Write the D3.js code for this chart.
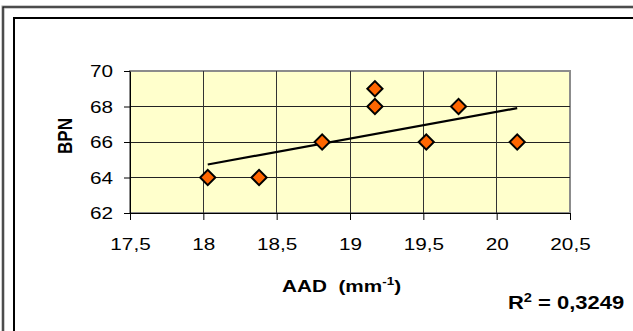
<html>
<head>
<script src="https://d3js.org/d3.v7.min.js"></script>
<style>
body { margin: 0; background: #fff; }
text { font-family: "Liberation Sans", Arial, sans-serif; fill: #000; }
</style>
</head>
<body>
<svg width="633" height="331"></svg>
<script>
// values
var aad = [18.03, 18.38, 18.81, 19.17, 19.17, 19.52, 19.74, 20.14];
var bpn = [64, 64, 66, 69, 68, 66, 68, 66];
var xTicks = [17.5, 18, 18.5, 19, 19.5, 20, 20.5];
var yTicks = [62, 64, 66, 68, 70];
var r2Text = "0,3249";

var svg = d3.select("svg");
var SX = 1.22; // picture is a bit stretched sideways

var x = d3.scaleLinear().domain([17.5, 20.5]).range([130, 570]);
var y = d3.scaleLinear().domain([62, 70]).range([213, 71]);

// frames
svg.append("rect").attr("x", 3).attr("y", 7).attr("width", 700).attr("height", 400)
    .attr("fill", "none").attr("stroke", "#999").attr("stroke-width", 3);
svg.append("rect").attr("x", 3).attr("y", 7).attr("width", 700).attr("height", 400)
    .attr("fill", "none").attr("stroke", "#000").attr("stroke-width", 1);
svg.append("rect").attr("x", 14).attr("y", 18).attr("width", 700).attr("height", 400)
    .attr("fill", "none").attr("stroke", "#000").attr("stroke-width", 2);

// plot area
svg.append("rect").attr("x", x(17.5)).attr("y", y(70))
    .attr("width", x(20.5) - x(17.5)).attr("height", y(62) - y(70))
    .attr("fill", "#ffffcc").attr("stroke", "#8c8c8c").attr("stroke-width", 2);

// grid
svg.append("g").selectAll("line").data(yTicks.slice(1, -1)).enter().append("line")
    .attr("x1", x(17.5)).attr("x2", x(20.5))
    .attr("y1", function(d) { return y(d); }).attr("y2", function(d) { return y(d); })
    .attr("stroke", "#222").attr("stroke-width", 1).attr("shape-rendering", "crispEdges");
svg.append("g").selectAll("line").data(xTicks.slice(1, -1)).enter().append("line")
    .attr("y1", y(62)).attr("y2", y(70))
    .attr("x1", function(d) { return x(d); }).attr("x2", function(d) { return x(d); })
    .attr("stroke", "#333").attr("stroke-width", 1).attr("shape-rendering", "crispEdges");

// axes
var fmt = function(d) { return String(d).replace(".", ","); };
var yAxis = svg.append("g").attr("transform", "translate(" + x(17.5) + ",0)")
    .call(d3.axisLeft(y).tickValues(yTicks).tickSize(6).tickSizeOuter(0).tickFormat(fmt));
var xAxis = svg.append("g").attr("transform", "translate(0," + y(62) + ")")
    .call(d3.axisBottom(x).tickValues(xTicks).tickSize(7).tickSizeOuter(0).tickFormat(fmt));

[yAxis, xAxis].forEach(function(a) {
    a.select(".domain").attr("stroke", "#000").attr("stroke-width", 1);
    a.selectAll(".tick line").attr("stroke", "#000");
    a.selectAll("text").attr("font-size", 17).attr("font-family", "Liberation Sans, Arial, sans-serif")
        .attr("fill", "#000");
});
yAxis.selectAll("text").attr("x", 0).attr("dy", "0.34em")
    .attr("transform", "translate(-17,0) scale(" + SX + ",1)");
xAxis.selectAll("text").attr("y", 0).attr("dy", 0)
    .attr("transform", "translate(0,37) scale(" + SX + ",1)");

// trend line (least squares)
var mx = d3.mean(aad), my = d3.mean(bpn);
var sxy = d3.sum(aad, function(v, i) { return (v - mx) * (bpn[i] - my); });
var sxx = d3.sum(aad, function(v) { return (v - mx) * (v - mx); });
var slope = sxy / sxx, icpt = my - slope * mx;
var ext = d3.extent(aad);
svg.append("line")
    .attr("x1", x(ext[0])).attr("y1", y(icpt + slope * ext[0]))
    .attr("x2", x(ext[1])).attr("y2", y(icpt + slope * ext[1]))
    .attr("stroke", "#000").attr("stroke-width", 2.2);

// markers
var sym = d3.symbol().type(d3.symbolSquare).size(115);
svg.append("g").selectAll("path").data(aad).enter().append("path")
    .attr("d", sym)
    .attr("transform", function(d, i) { return "translate(" + x(d) + "," + y(bpn[i]) + ") rotate(45)"; })
    .attr("fill", "#ff6600").attr("stroke", "#000").attr("stroke-width", 2);

// titles
svg.append("text")
    .attr("transform", "translate(72,136) scale(" + SX + ",1) rotate(-90)")
    .attr("text-anchor", "middle").attr("font-size", 17).attr("font-weight", "bold")
    .text("BPN");

var xt = svg.append("text")
    .attr("transform", "translate(282,292) scale(" + SX + ",1)")
    .attr("font-size", 17).attr("font-weight", "bold").style("white-space", "pre");
xt.append("tspan").text("AAD  (mm");
xt.append("tspan").attr("font-size", 11).attr("dy", -7).text("-1");
xt.append("tspan").attr("dy", 7).text(")");

var rt = svg.append("text")
    .attr("transform", "translate(508,309) scale(" + SX + ",1)")
    .attr("font-size", 18).attr("font-weight", "bold").style("white-space", "pre");
rt.append("tspan").text("R");
rt.append("tspan").attr("font-size", 12).attr("dy", -7).text("2");
rt.append("tspan").attr("dy", 7).text(" = " + r2Text);
</script>
</body>
</html>
